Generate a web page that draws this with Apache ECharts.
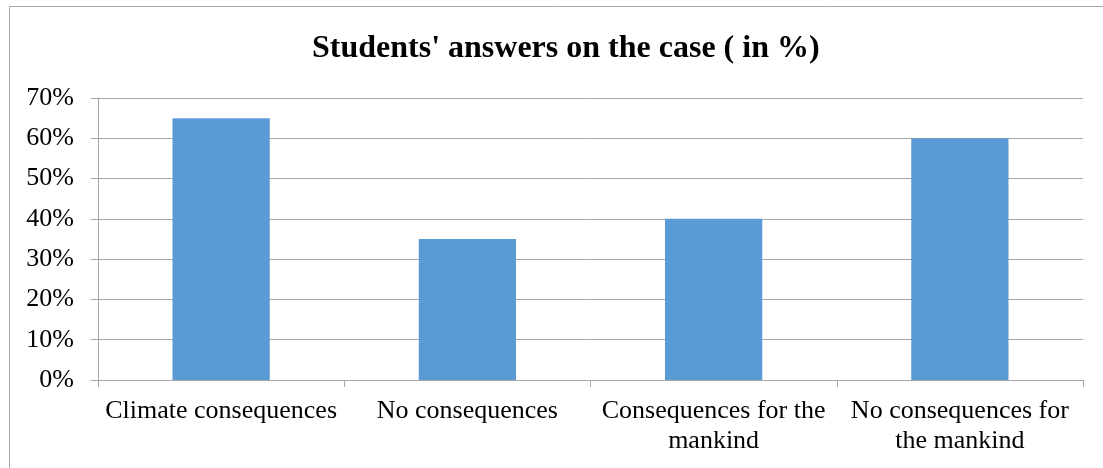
<!DOCTYPE html>
<html><head><meta charset="utf-8">
<script src="https://cdn.jsdelivr.net/npm/echarts@6/dist/echarts.min.js"></script>
<style>html,body{margin:0;padding:0;background:#fff}#c{width:1103px;height:468px}</style>
</head><body><div id="c"></div>
<script>
var categories = ["Climate consequences", "No consequences", "Consequences for the\nmankind", "No consequences for\nthe mankind"];
var values = [65, 35, 40, 60];
var titleText = "Students' answers on the case ( in %)";
var chart = echarts.init(document.getElementById('c'));
var font = "'Liberation Serif','Times New Roman',serif";
chart.setOption({
  animation: false,
  graphic: [{type:'rect', shape:{x:9.5,y:6.5,width:1200,height:600}, style:{fill:'none', stroke:'#A6A6A6', lineWidth:1}}],
  title: {text: titleText, left: 307, top: 28, textStyle:{fontFamily:font, fontWeight:'bold', fontSize:32, color:'#000'}},
  grid: {left: 98, right: 20, top: 98, bottom: 88},
  xAxis: {type:'category', data: categories,
    axisLine:{lineStyle:{color:'#A6A6A6'}},
    axisTick:{show:true, length:7, lineStyle:{color:'#A6A6A6'}},
    axisLabel:{fontFamily:font, fontSize:26, color:'#000', margin:16, lineHeight:30, interval:0}},
  yAxis: {type:'value', min:0, max:70, interval:10,
    axisLine:{show:true, lineStyle:{color:'#A6A6A6'}},
    axisTick:{show:true, length:7, lineStyle:{color:'#A6A6A6'}},
    splitLine:{lineStyle:{color:'#A6A6A6'}},
    axisLabel:{fontFamily:font, fontSize:26, color:'#000', margin:24, formatter:'{value}%'}},
  series: [{type:'bar', data: values, barWidth:'39.5%', itemStyle:{color:'#5B9BD5'}}]
});
</script></body></html>
